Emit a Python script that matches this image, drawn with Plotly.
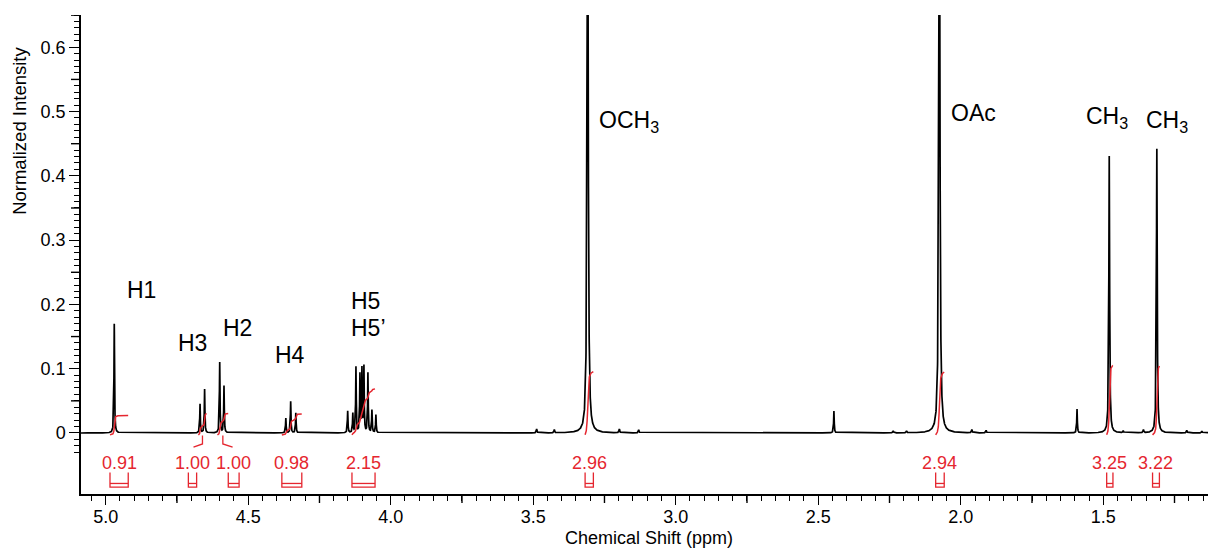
import numpy as np
import plotly.graph_objects as go

# ---------------- data ----------------
peak_ppm = [4.970,
            4.669, 4.653,
            4.600, 4.585,
            4.368, 4.351, 4.333,
            4.151, 4.133, 4.122, 4.108, 4.101, 4.094, 4.080, 4.066, 4.052,
            3.488, 3.426, 3.309, 3.198, 3.130,
            2.445, 2.237, 2.190, 2.075, 1.961, 1.911,
            1.592, 1.479, 1.430, 1.359, 1.312, 1.207, 1.154]
peak_height = [0.170,
               0.045, 0.068,
               0.110, 0.073,
               0.023, 0.049, 0.031,
               0.034, 0.030, 0.102, 0.090, 0.098, 0.102, 0.093, 0.035, 0.028,
               0.006, 0.005, 1.000, 0.006, 0.005,
               0.034, 0.003, 0.003, 1.000, 0.005, 0.004,
               0.037, 0.431, 0.003, 0.005, 0.442, 0.004, 0.003]
peak_hwhm = [0.0012,
             0.0012, 0.0012,
             0.0012, 0.0012,
             0.0012, 0.0012, 0.0012,
             0.0012, 0.0012, 0.0012, 0.0012, 0.0012, 0.0012, 0.0012, 0.0012, 0.0012,
             0.0015, 0.0015, 0.0022, 0.0015, 0.0015,
             0.0012, 0.0015, 0.0015, 0.0022, 0.0015, 0.0015,
             0.0012, 0.0016, 0.0015, 0.0015, 0.0016, 0.0015, 0.0015]

int_start = [4.985, 4.675, 4.608, 4.382, 4.136, 3.318, 2.088, 1.488, 1.327]
int_end = [4.921, 4.646, 4.570, 4.312, 4.055, 3.289, 2.058, 1.466, 1.303]
int_values = [0.91, 1.00, 1.00, 0.98, 2.15, 2.96, 2.94, 3.25, 3.22]

peak_labels = ["H1", "H3", "H2", "H4", "H5", "H5’", "OCH<sub>3</sub>", "OAc",
               "CH<sub>3</sub>", "CH<sub>3</sub>"]

x_major = [5.0, 4.5, 4.0, 3.5, 3.0, 2.5, 2.0, 1.5]
y_major = [0, 0.1, 0.2, 0.3, 0.4, 0.5, 0.6]
y_major_text = ["0", "0.1", "0.2", "0.3", "0.4", "0.5", "0.6"]

x_title = "Chemical Shift (ppm)"
y_title = "Normalized Intensity"

# ---------------- spectrum ----------------
grid = np.union1d(np.arange(1.12, 5.10, 0.0002), np.array(peak_ppm))
spec = np.zeros_like(grid)
for p, h, w in zip(peak_ppm, peak_height, peak_hwhm):
    spec += h * w ** 2 / ((grid - p) ** 2 + w ** 2)

RED = "#e5262f"
FONT = "Arial, Liberation Sans, Helvetica, sans-serif"
INT_SCALE = 0.0333   # intensity units per integral unit
INT_BASE = -0.003

fig = go.Figure()
fig.add_trace(go.Scatter(x=grid, y=spec, mode="lines",
                         line=dict(color="black", width=1.7), hoverinfo="skip"))

# integral curves
for a, b, v in zip(int_start, int_end, int_values):
    m = (grid <= a) & (grid >= b)
    xs = grid[m][::-1]
    ys = spec[m][::-1]
    cum = np.cumsum(ys)
    cum = cum / cum[-1]
    fig.add_trace(go.Scatter(x=xs, y=INT_BASE + INT_SCALE * v * cum, mode="lines",
                             line=dict(color=RED, width=1.5), hoverinfo="skip"))

# brackets + integral values
label_shift = [0, 0.035, -0.038, 0, 0, 0, 0, 0, 0]
y_top, y_mid, y_bot, y_txt = -0.0616, -0.0785, -0.0842, -0.0465
bx, by = [], []
for a, b, v, s in zip(int_start, int_end, int_values, label_shift):
    c = (a + b) / 2 + s
    hw = (a - b) / 2
    bx += [c + hw, c + hw, c - hw, c - hw, None, c + hw, c - hw, None]
    by += [y_top, y_bot, y_bot, y_top, None, y_mid, y_mid, None]
    fig.add_annotation(x=c, y=y_txt, text=f"{v:.2f}", showarrow=False,
                       font=dict(size=18, color=RED, family=FONT),
                       xanchor="center", yanchor="middle")
fig.add_trace(go.Scatter(x=bx, y=by, mode="lines", line=dict(color=RED, width=1.3),
                         hoverinfo="skip"))

# leader lines for shifted labels (H3, H2)
lx, ly = [], []
for a, b, s in zip(int_start, int_end, label_shift):
    if s != 0:
        c = (a + b) / 2
        lx += [c, c, c + s * 0.9, None]
        ly += [-0.004, -0.017, -0.022, None]
fig.add_trace(go.Scatter(x=lx, y=ly, mode="lines", line=dict(color=RED, width=1.3),
                         hoverinfo="skip"))

# peak labels
label_pos = [(4.876, 0.222, "center"), (4.697, 0.140, "center"), (4.539, 0.164, "center"),
             (4.353, 0.121, "center"), (4.148, 0.206, "left"), (4.148, 0.164, "left"),
             (3.276, 0.485, "left"), (2.040, 0.498, "left"), (1.567, 0.491, "left"),
             (1.358, 0.484, "left")]
for t, (x, y, anc) in zip(peak_labels, label_pos):
    fig.add_annotation(x=x, y=y, text=t, showarrow=False, xanchor=anc, yanchor="middle",
                       font=dict(size=23, color="black", family=FONT))

# axis titles
fig.add_annotation(x=0.5044, y=0, xref="paper", yref="paper", text=x_title,
                   showarrow=False, xanchor="center", yanchor="middle", yshift=-44,
                   borderpad=0, font=dict(size=18, color="black", family=FONT))
fig.add_annotation(x=-0.0541, y=0.47, xref="paper", yref="y", text=y_title,
                   showarrow=False, xanchor="center", yanchor="middle", textangle=-90,
                   font=dict(size=18.5, color="black", family=FONT))

# minor ticks
x_minor = [round(v, 2) for v in np.arange(1.15, 5.09, 0.05)]
x_minor = [v for v in x_minor if all(abs(v - t) > 1e-6 for t in x_major)]
y_minor = [round(v, 2) for v in np.arange(-0.03, 0.651, 0.01)]
y_minor = [v for v in y_minor if all(abs(v - t) > 1e-6 for t in y_major)]

# medium ticks (every 0.25 ppm / 0.05 intensity) drawn as pixel-sized shapes
x_med = [round(v, 2) for v in np.arange(1.25, 5.01, 0.5)]
y_med = [round(v, 2) for v in np.arange(0.05, 0.66, 0.1)]
for v in x_med:
    fig.add_shape(type="line", xref="x", yref="paper", ysizemode="pixel", yanchor=0,
                  x0=v, x1=v, y0=0, y1=-9, line=dict(color="black", width=1.4))
for v in y_med:
    fig.add_shape(type="line", xref="paper", yref="y", xsizemode="pixel", xanchor=0,
                  x0=0, x1=-10, y0=v, y1=v, line=dict(color="black", width=1.4))

fig.update_layout(
    width=1208, height=549,
    margin=dict(l=81, r=0, t=15, b=55),
    plot_bgcolor="white", paper_bgcolor="white",
    showlegend=False,
    font=dict(family=FONT, color="black"),
    xaxis=dict(range=[5.0867, 1.1325], showline=True, linecolor="black", linewidth=1.5,
               mirror=False, showgrid=False, zeroline=False,
               ticks="outside", ticklen=9, tickwidth=1.4, tickcolor="black",
               ticklabelstandoff=-3,
               tickmode="array", tickvals=x_major, ticktext=[f"{v:.1f}" for v in x_major],
               tickfont=dict(size=18, family=FONT, color="black"),
               minor=dict(tickmode="array", tickvals=x_minor, ticks="outside",
                          ticklen=5, tickwidth=1.2, tickcolor="black", showgrid=False)),
    yaxis=dict(range=[-0.0949, 0.6502], showline=True, linecolor="black", linewidth=1.5,
               showgrid=False, zeroline=False,
               ticks="outside", ticklen=10, tickwidth=1.4, tickcolor="black",
               tickmode="array", tickvals=y_major, ticktext=y_major_text,
               tickfont=dict(size=18, family=FONT, color="black"),
               minor=dict(tickmode="array", tickvals=y_minor, ticks="outside",
                          ticklen=5, tickwidth=1.2, tickcolor="black", showgrid=False)),
)

fig.write_html("out.html")
